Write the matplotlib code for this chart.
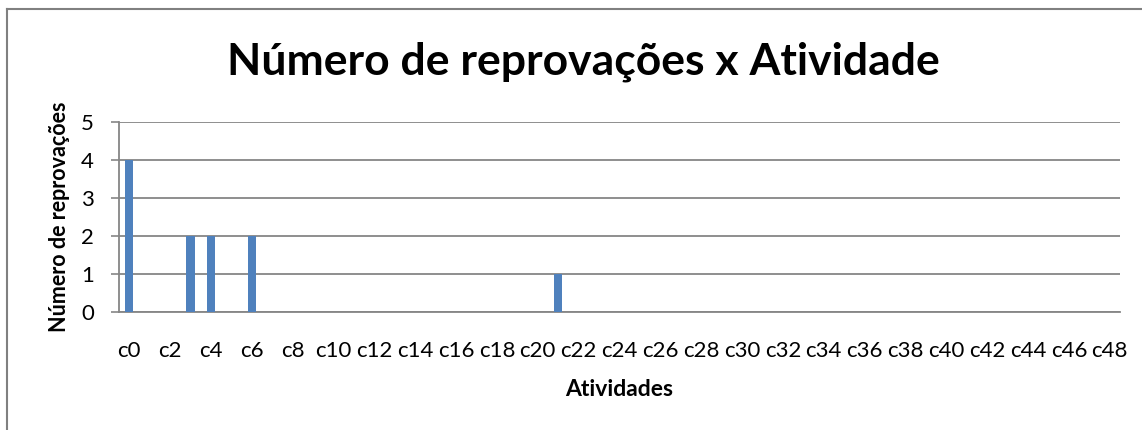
import matplotlib.pyplot as plt
import numpy as np

plt.rcParams['font.family'] = ['Lato', 'DejaVu Sans']

# atividades c0..c48 e numero de reprovacoes em cada uma
atividades = ['c%d' % i for i in range(49)]
reprovacoes = [0] * 49
reprovacoes[0] = 4
reprovacoes[3] = 2
reprovacoes[4] = 2
reprovacoes[6] = 2
reprovacoes[21] = 1

cor_barra = '#4F81BD'
cor_grade = '#868686'

fig = plt.figure(figsize=(11.42, 4.3), dpi=100)
ax = fig.add_axes([119 / 1142, 1 - 312 / 430, (1120 - 119) / 1142, (312 - 122) / 430])

x = np.arange(len(atividades))
ax.bar(x, reprovacoes, width=0.4, color=cor_barra, zorder=3)

ax.set_xlim(-0.5, len(atividades) - 0.5)
ax.set_ylim(0, 5)
ax.set_yticks(range(0, 6))
ax.set_xticks(x[::2])
ax.set_xticklabels(atividades[::2], fontsize=16)
ax.tick_params(axis='y', labelsize=16, length=6, width=1.2, color=cor_grade, pad=12)
ax.tick_params(axis='x', length=0, pad=21)

ax.yaxis.grid(True, color=cor_grade, linewidth=1.3, zorder=0)
for lado in ['top', 'right']:
    ax.spines[lado].set_visible(False)
for lado in ['left', 'bottom']:
    ax.spines[lado].set_color(cor_grade)
    ax.spines[lado].set_linewidth(1.3)

ax.set_xlabel('Atividades', fontsize=16.5, fontweight='bold', labelpad=13)
ax.set_ylabel('Número de reprovações', fontsize=15.5, fontweight='bold', labelpad=8)

fig.text(583 / 1142, 1 - 62 / 430, 'Número de reprovações x Atividade',
         ha='center', va='center', fontsize=32, fontweight='bold')

# moldura do grafico
fig.add_artist(plt.Line2D([7 / 1142, 7 / 1142], [0, 1 - 9 / 430], transform=fig.transFigure,
                          color='#808080', linewidth=1.5))
fig.add_artist(plt.Line2D([7 / 1142, 1], [1 - 9 / 430, 1 - 9 / 430], transform=fig.transFigure,
                          color='#808080', linewidth=1.5))

fig.savefig('out.png', dpi=100)
